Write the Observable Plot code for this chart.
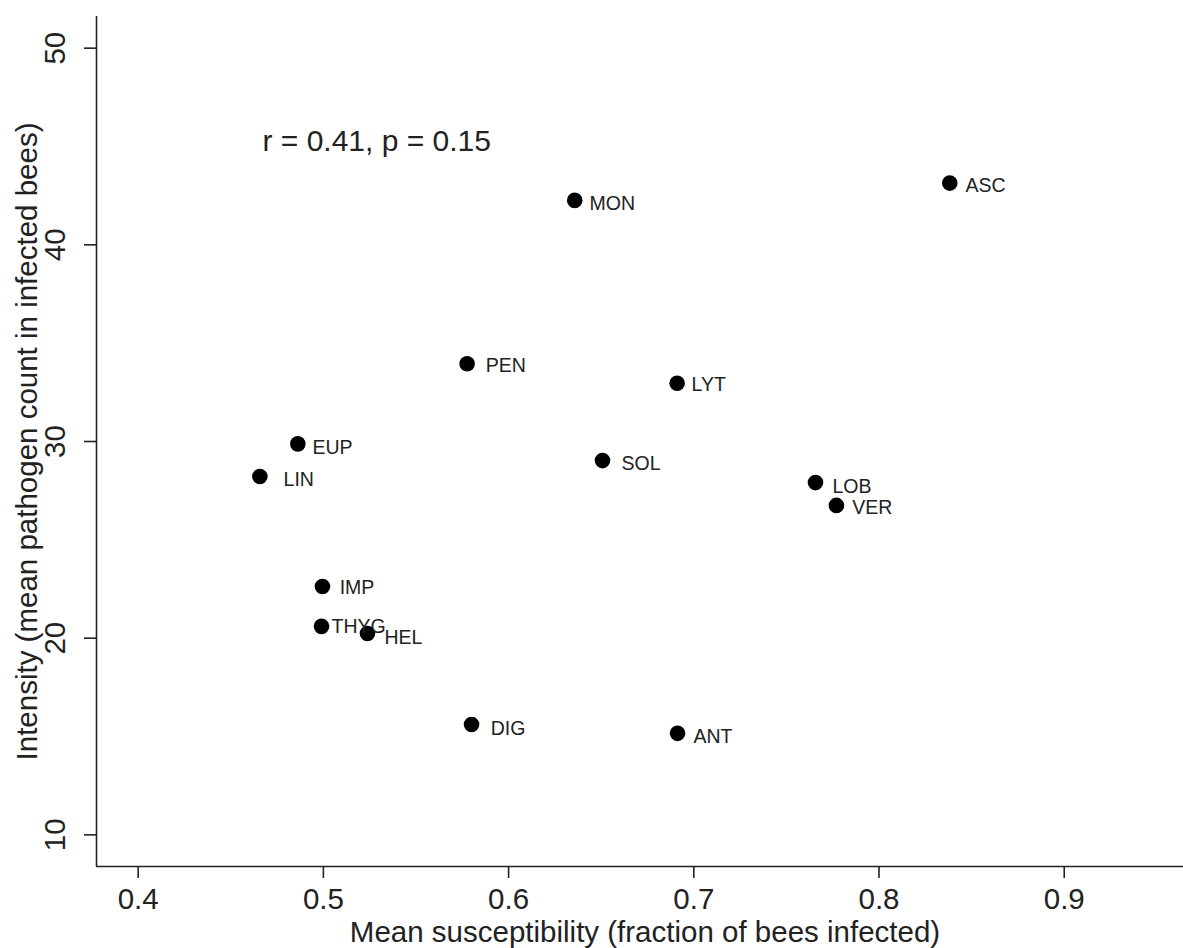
<!DOCTYPE html>
<html>
<head>
<meta charset="utf-8">
<script src="https://cdn.jsdelivr.net/npm/d3@7"></script>
<script src="https://cdn.jsdelivr.net/npm/@observablehq/plot@0.6"></script>
<style>
  html, body { margin: 0; padding: 0; background: #fff; }
  svg { display: block; }
</style>
</head>
<body>
<div id="chart"></div>
<script>
// Data
const species = ["ASC","MON","PEN","LYT","EUP","LIN","SOL","LOB","VER","IMP","THYG","HEL","DIG","ANT"];
const susceptibility = [0.8382,0.6357,0.5776,0.6910,0.4862,0.4657,0.6507,0.7657,0.7770,0.4995,0.4990,0.5238,0.5800,0.6912];
const intensity = [43.14,42.26,33.95,32.96,29.88,28.22,29.03,27.91,26.75,22.63,20.60,20.24,15.61,15.16];
// label anchor positions (data units), as placed in the original figure
const labelX = [0.8467,0.6437,0.5876,0.6988,0.4941,0.4785,0.6610,0.7749,0.7856,0.5088,0.5044,0.5330,0.5903,0.6998];
const labelY = [43.02,42.07,33.86,32.90,29.70,28.07,28.88,27.71,26.64,22.57,20.60,20.03,15.40,15.00];

const xTicks = [0.4, 0.5, 0.6, 0.7, 0.8, 0.9];
const yTicks = [10, 20, 30, 40, 50];
const xDomain = [0.3775, 0.9644];
const yDomain = [8.39, 51.61];
const annotation = {x: 0.4671, y: 45.26, text: "r = 0.41, p = 0.15"};
const xTitle = "Mean susceptibility (fraction of bees infected)";
const yTitle = "Intensity (mean pathogen count in infected bees)";

const points = species.map((s, i) => ({
  name: s, x: susceptibility[i], y: intensity[i], lx: labelX[i], ly: labelY[i]
}));

const font = "'Liberation Sans', Arial, sans-serif";
const ink = "#222";

const plot = Plot.plot({
  width: 1183,
  height: 948,
  marginLeft: 96,
  marginRight: 0,
  marginTop: 16,
  marginBottom: 82,
  style: {fontFamily: font, background: "#fff", color: ink, overflow: "visible"},
  x: {domain: xDomain, range: [96, 1183]},
  y: {domain: yDomain},
  marks: [
    // axis lines (L-shaped box)
    Plot.ruleX([xDomain[0]], {stroke: ink, strokeWidth: 1.6}),
    Plot.ruleY([yDomain[0]], {stroke: ink, strokeWidth: 1.6}),
    // x axis
    Plot.axisX({ticks: xTicks, tickSize: 12, tickPadding: 10, fontSize: 29.5, stroke: ink, strokeWidth: 1.6, fill: ink, tickFormat: d => d3.format(".1f")(d), label: null}),
    // y axis ticks
    Plot.axisY({ticks: yTicks, tickSize: 12, text: null, stroke: ink, strokeWidth: 1.6, label: null}),
    // y tick labels (rotated, as in the original)
    Plot.text(yTicks, {y: d => d, text: d => String(d), frameAnchor: "left", dx: -41, rotate: -90, fontSize: 29.5, fill: ink, textAnchor: "middle", lineAnchor: "middle"}),
    // axis titles
    Plot.text([xTitle], {text: d => d, frameAnchor: "bottom", dy: 66, dx: 5, fontSize: 29.5, fill: ink, textAnchor: "middle", lineAnchor: "middle"}),
    Plot.text([yTitle], {text: d => d, frameAnchor: "left", dx: -69, rotate: -90, fontSize: 29.5, fill: ink, textAnchor: "middle", lineAnchor: "middle"}),
    // annotation
    Plot.text([annotation], {x: "x", y: "y", text: "text", fontSize: 30, fill: ink, textAnchor: "start", lineAnchor: "middle"}),
    // points
    Plot.dot(points, {x: "x", y: "y", r: 7.8, fill: "#000", stroke: "none"}),
    // labels
    Plot.text(points, {x: "lx", y: "ly", text: "name", fontSize: 19.5, fill: ink, textAnchor: "start", lineAnchor: "middle"})
  ]
});

document.getElementById("chart").appendChild(plot);
</script>
</body>
</html>
